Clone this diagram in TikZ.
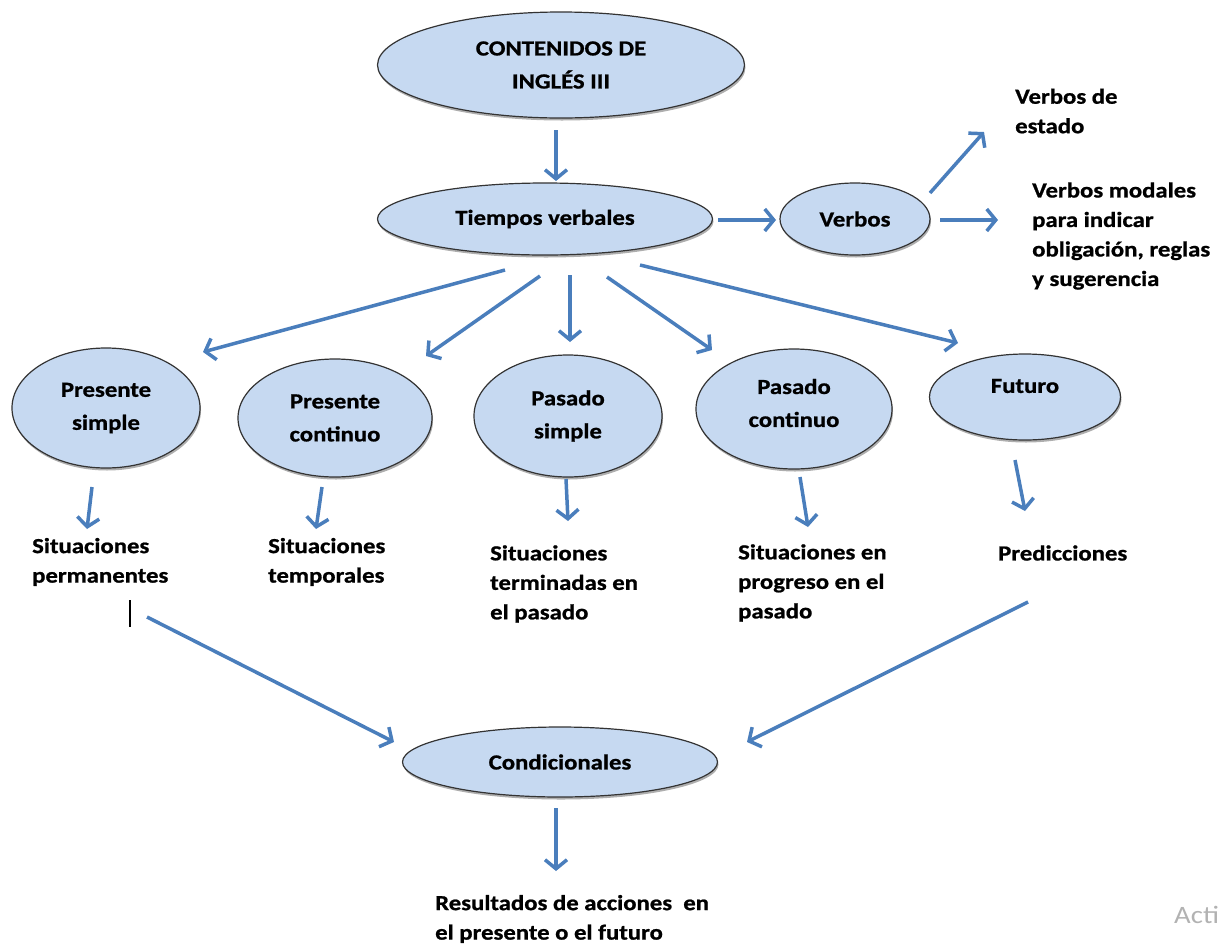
\documentclass[tikz,border=0pt]{standalone}
\usepackage{fontspec}
\setmainfont{Carlito}[FakeStretch=1.15, BoldFeatures={FakeBold=0.9}]
\usetikzlibrary{arrows.meta,shapes.geometric,shadows}
\definecolor{fillblue}{RGB}{198,217,241}
\definecolor{arrowblue}{RGB}{74,126,188}
\begin{document}
\begin{tikzpicture}[x=1pt,y=-1pt,
  oval/.style={ellipse, draw=black!80, line width=1.2pt, fill=fillblue, inner sep=0pt, align=center,
    font=\bfseries\fontsize{21.5}{33}\selectfont,
    drop shadow={shadow xshift=1pt, shadow yshift=-2.5pt, opacity=0.45, fill=black!70}},
  ovaltext/.style={inner sep=0pt, align=center, font=\bfseries\fontsize{21.5}{33}\selectfont},
  lbl/.style={anchor=west, align=left, inner sep=0pt, font=\bfseries\fontsize{21.5}{29.5}\selectfont},
  arr/.style={draw=arrowblue, line width=3.5pt, -{Straight Barb[length=9pt,width=22pt]}},
]
\useasboundingbox (0,0) rectangle (1224,943);

% ellipses
\node[oval, minimum width=367pt, minimum height=106pt] (cont) at (561,65) {CONTENIDOS DE\\INGLÉS III};
\node[oval, minimum width=335pt, minimum height=72pt] (tv) at (545,219) {Tiempos verbales};
\node[oval, minimum width=150pt, minimum height=72pt] (verb) at (855,219) {Verbos};
\node[oval, minimum width=188pt, minimum height=120pt] (ps) at (106,408) {Presente\\simple};
\node[oval, minimum width=194pt, minimum height=118pt] (pc) at (335,418) {Presente\\continuo};
\node[oval, minimum width=188pt, minimum height=122pt] (pas) at (568,416) {Pasado\\simple};
\node[oval, minimum width=196pt, minimum height=120pt] (pac) at (794,409) {};
\node[ovaltext] (pact) at (794,403) {Pasado\\continuo};
\node[oval, minimum width=191pt, minimum height=86pt] (fut) at (1025,397) {};
\node[ovaltext] (futt) at (1025,386) {Futuro};
\node[oval, minimum width=315pt, minimum height=70pt] (cond) at (560,762) {Condicionales};

% text nodes
\node[lbl] (ve) at (1015,111) {Verbos de\\estado};
\node[lbl] (vm) at (1032,236) {Verbos modales\\para indicar\\obligación, reglas\\y sugerencia};
\node[lbl] (sp) at (32,562) {Situaciones\\permanentes};
\node[lbl] (st) at (268,562) {Situaciones\\temporales};
\node[lbl] (stp) at (490,584) {Situaciones\\terminadas en\\el pasado};
\node[lbl] (spp) at (738,583) {Situaciones en\\progreso en el\\pasado};
\node[lbl] (pr) at (998,553) {Predicciones};
\node[lbl] (res) at (435,919) {Resultados de acciones~ en\\el presente o el futuro};
\node[anchor=west, inner sep=0pt, text=black!30, font=\fontsize{25}{25}\selectfont] (act) at (1174,915) {Acti};

% connector end points
\coordinate (a1) at (556,130); \coordinate (a2) at (556,181);
\coordinate (b1) at (718,220); \coordinate (b2) at (776,220);
\coordinate (c1) at (930,193); \coordinate (c2) at (984,132);
\coordinate (d1) at (940,220); \coordinate (d2) at (998,220);
\coordinate (e1) at (505,270); \coordinate (e2) at (203,352);
\coordinate (f1) at (540,276); \coordinate (f2) at (426,356);
\coordinate (g1) at (570,275); \coordinate (g2) at (570,342);
\coordinate (h1) at (607,277); \coordinate (h2) at (712,350);
\coordinate (i1) at (640,265); \coordinate (i2) at (958,343);
\coordinate (j1) at (92,487);  \coordinate (j2) at (87,529);
\coordinate (k1) at (322,487); \coordinate (k2) at (316,529);
\coordinate (l1) at (566,479); \coordinate (l2) at (568,521);
\coordinate (m1) at (800,477); \coordinate (m2) at (808,527);
\coordinate (n1) at (1015,460); \coordinate (n2) at (1025,511);
\coordinate (o1) at (147,617); \coordinate (o2) at (394,742);
\coordinate (p1) at (1028,602); \coordinate (p2) at (747,742);
\coordinate (q1) at (556,808); \coordinate (q2) at (556,871);

\draw[arr] (a1) -- (a2);
\draw[arr] (b1) -- (b2);
\draw[arr] (c1) -- (c2);
\draw[arr] (d1) -- (d2);
\draw[arr] (e1) -- (e2);
\draw[arr] (f1) -- (f2);
\draw[arr] (g1) -- (g2);
\draw[arr] (h1) -- (h2);
\draw[arr] (i1) -- (i2);
\draw[arr] (j1) -- (j2);
\draw[arr] (k1) -- (k2);
\draw[arr] (l1) -- (l2);
\draw[arr] (m1) -- (m2);
\draw[arr] (n1) -- (n2);
\draw[arr] (o1) -- (o2);
\draw[arr] (p1) -- (p2);
\draw[arr] (q1) -- (q2);

% text cursor mark
\draw[line width=2pt] (130,600) -- (130,627);
\end{tikzpicture}
\end{document}
